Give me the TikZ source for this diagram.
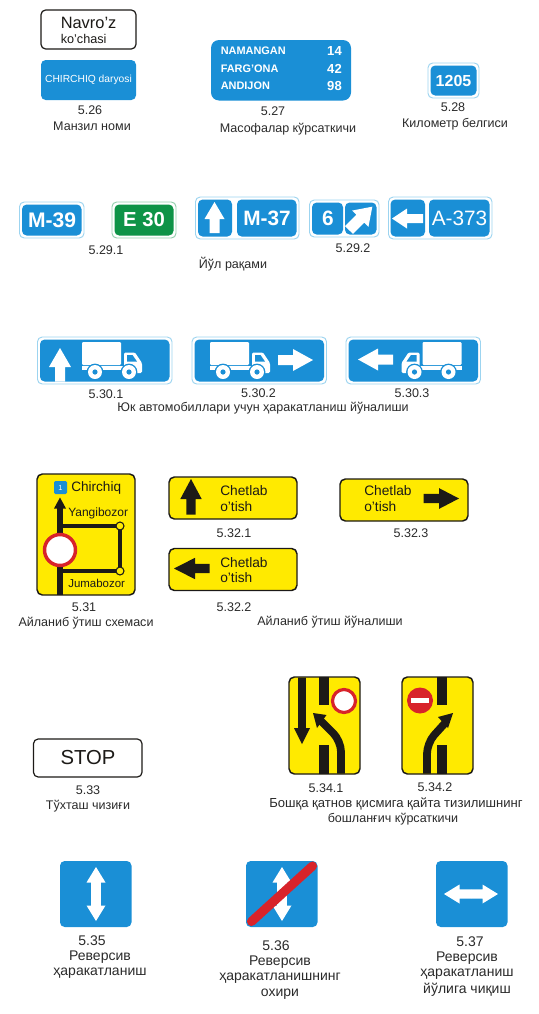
\documentclass[tikz,border=0pt]{standalone}
\usepackage{fontspec}
\setmainfont{Liberation Sans}
\definecolor{signblue}{HTML}{1A8FD6}
\definecolor{edgeblue}{HTML}{9CD4F0}
\definecolor{signgreen}{HTML}{0E9347}
\definecolor{signyellow}{HTML}{FFEA00}
\definecolor{signred}{HTML}{D8232A}
\definecolor{inkblack}{HTML}{1C1A17}
\definecolor{captext}{HTML}{2A2A2A}
\newcommand{\fs}[1]{\fontsize{#1}{#1}\selectfont}
% tail position, angle, length, head length, half head, half shaft
\newcommand{\signarrow}[7][white]{%
    \fill[#1,shift={#2},rotate=#3] (0,-#7) -- ({#4-#5},-#7) -- ({#4-#5},-#6) -- (#4,0)
        -- ({#4-#5},#6) -- ({#4-#5},#7) -- (0,#7) -- cycle;}
\tikzset{
    caplabel/.style={font=\fs{9.4}, text=captext, inner sep=0pt},
    biglabel/.style={font=\fs{10.5}, text=captext, inner sep=0pt},
    bluesign/.style={fill=signblue, rounded corners=3.5pt},
    edgesign/.style={draw=edgeblue, fill=white, line width=0.7pt, rounded corners=3.5pt},
    yellowsign/.style={draw=inkblack, fill=signyellow, line width=1.1pt, rounded corners=4pt},
    whitesign/.style={draw=inkblack, fill=white, line width=0.9pt, rounded corners=3.5pt},
    signtext/.style={text=white, inner sep=0pt},
    blacktext/.style={text=inkblack, inner sep=0pt},
    truck/.pic={
        \fill[white, rounded corners=0.8pt] (0,0) rectangle (39,23);
        \fill[white] (0,24) rectangle (42,28);
        \fill[white, rounded corners=1pt] (42,10.5) -- (53,10.5) -- (60,21) -- (60,31) -- (42,31) -- cycle;
        \fill[signblue] (45,13) -- (50.5,13) -- (55,19.5) -- (45,19.5) -- cycle;
        \foreach \w in {13, 47} {
            \fill[signblue] (\w,30) circle (8.4);
            \fill[white] (\w,30) circle (7);
            \fill[signblue] (\w,30) circle (2.6);
        }
    }
}
\begin{document}
\begin{tikzpicture}[x=0.75pt, y=-0.75pt]
    \useasboundingbox (0,0) rectangle (539,1014);
    % 5.26
    \draw[whitesign] (41,10) rectangle (136,49);
    \node[blacktext, font=\fs{12.3}, anchor=west] (navroz) at (60.5,22.5) {Navro’z};
    \node[blacktext, font=\fs{9.5}, anchor=west] (kochasi) at (60.5,39) {ko’chasi};
    \fill[bluesign] (41,60) rectangle (136,100);
    \node[signtext, font=\fs{7.7}] (chirchiq) at (88.5,80) {CHIRCHIQ daryosi};
    % 5.27
    \fill[bluesign, rounded corners=6pt] (211,40) rectangle (351,100.5);
    \foreach \name/\y/\city/\km in {nam/51/NAMANGAN/14, far/68.5/FARG’ONA/42, and/85.5/ANDIJON/98} {
        \node[signtext, font=\fs{8.2}\bfseries, anchor=west] (\name city) at (220.5,\y) {\city};
        \node[signtext, font=\fs{9.8}\bfseries] (\name km) at (334.5,\y) {\km};
    }
    % 5.28
    \draw[edgesign] (428,63) rectangle (479,98);
    \fill[bluesign] (430.5,65.5) rectangle (476.5,95.5);
    \node[signtext, font=\fs{12}\bfseries] (km1205) at (453.5,81) {1205};
    % 5.29
    \draw[edgesign] (19.5,202) rectangle (84,238);
    \fill[bluesign] (22,204.5) rectangle (81.5,235.5);
    \node[signtext, font=\fs{15.8}\bfseries] (m39) at (52,220) {M-39};
    \draw[edgesign, draw=signgreen!45] (112,202) rectangle (176,238);
    \fill[bluesign, fill=signgreen] (114.5,204.5) rectangle (173.5,235.5);
    \node[signtext, font=\fs{15.2}\bfseries] (e30) at (144,220) {E 30};
    \draw[edgesign] (195.5,197) rectangle (299,239);
    \fill[bluesign] (198,199.5) rectangle (232,236.5);
    \fill[bluesign] (237,199.5) rectangle (296.5,236.5);
    \signarrow{(214.5,233)}{90}{31}{17}{10}{5}
    \node[signtext, font=\fs{15.6}\bfseries] (m37) at (267,218.5) {M-37};
    \draw[edgesign] (309.5,200) rectangle (379,237);
    \fill[bluesign] (312,202.5) rectangle (343,234.5);
    \fill[bluesign] (345,202.5) rectangle (376.5,234.5);
    \node[signtext, font=\fs{15.6}\bfseries] (six) at (328,218.5) {6};
    \signarrow{(349,230)}{45}{33}{17}{11.5}{5.5}
    \draw[edgesign] (388.5,197) rectangle (492,239);
    \fill[bluesign] (390.5,199.5) rectangle (425,236.5);
    \fill[bluesign] (429,199.5) rectangle (489.5,236.5);
    \signarrow{(423,218.5)}{180}{31}{15}{10}{4.5}
    \node[signtext, font=\fs{15.6}] (a373) at (459.5,218.5) {A-373};
    % 5.30
    \foreach \x in {37.5, 192, 346} {
        \draw[edgesign] (\x,337) rectangle (\x+134.5,384);
        \fill[bluesign] (\x+2.5,339.5) rectangle (\x+132,381.5);
    }
    \signarrow{(60,381.5)}{90}{33.5}{19}{11}{5}
    \pic at (82,342) {truck};
    \pic at (210,342) {truck};
    \signarrow{(278,360)}{0}{35}{20}{11}{5}
    \pic[xscale=-1] at (461.5,342) {truck};
    \signarrow{(393,359.5)}{180}{35}{20}{11}{5}
    % 5.31
    \draw[yellowsign] (37,474) rectangle (135,595);
    \draw[inkblack, line width=2.6pt] (60,526) -- (120,526) -- (120,571) -- (60,571);
    \draw[inkblack, line width=3.8pt] (60,594.5) -- (60,505);
    \fill[inkblack] (60,497.5) -- (66,508.5) -- (54,508.5) -- cycle;
    \foreach \y in {526, 571} {
        \filldraw[fill=signyellow, draw=inkblack, line width=0.8pt] (120,\y) circle (4);
    }
    \filldraw[fill=white, draw=signred, line width=2.6pt] (60,550) circle (15.5);
    \fill[fill=signblue, rounded corners=1pt] (54,481) rectangle (67,494);
    \node[signtext, font=\fs{5.5}] (exit) at (60.5,487.5) {1};
    \node[blacktext, font=\fs{10.2}, anchor=west] (chirchiqcity) at (71,488) {Chirchiq};
    \node[blacktext, font=\fs{9}, anchor=west] (yangibozor) at (68,513) {Yangibozor};
    \node[blacktext, font=\fs{8.6}, anchor=west] (jumabozor) at (68,583) {Jumabozor};
    % 5.32
    \foreach \name/\x/\y in {one/169/477, two/169/548.5, three/340/479} {
        \draw[yellowsign] (\x,\y) rectangle (\x+128,\y+42);
    }
    \foreach \name/\x/\y in {one/220/491, two/220/562.5, three/364/491} {
        \node[blacktext, font=\fs{10.3}, anchor=west] (\name a) at (\x,\y) {Chetlab};
        \node[blacktext, font=\fs{10.3}, anchor=west] (\name b) at (\x,\y+15.5) {o’tish};
    }
    \signarrow[inkblack]{(191,514.5)}{90}{35.5}{20}{10.7}{4.7}
    \signarrow[inkblack]{(209.5,568.5)}{180}{35.5}{21}{10.7}{4.7}
    \signarrow[inkblack]{(423.5,498.5)}{0}{35.5}{20}{10.4}{4.6}
    % 5.33
    \draw[whitesign] (33.5,739) rectangle (142,777);
    \node[blacktext, font=\fs{15.2}] (stop) at (88,757.5) {STOP};
    % 5.34
    \draw[yellowsign] (289,677) rectangle (360,774);
    \draw[yellowsign] (402,677) rectangle (473,774);
    \foreach \x in {324, 442} {
        \fill[inkblack] (\x-4.7,677) rectangle (\x+4.7,705);
        \fill[inkblack] (\x-4.7,745) rectangle (\x+4.7,774);
    }
    \signarrow[inkblack]{(302,677.5)}{-90}{66.5}{16}{8}{3.8}
    \filldraw[fill=white, draw=signred, line width=2.4pt] (344,701) circle (11.5);
    \draw[inkblack, line width=5.8pt, rounded corners=8pt] (341,773.5) -- (341,741) -- (321,721);
    \fill[inkblack] (313,713) -- (326.5,715) -- (317,728) -- cycle;
    \fill[signred] (420,700.5) circle (13);
    \fill[white] (411,698) rectangle (429,703);
    \draw[inkblack, line width=5.8pt, rounded corners=8pt] (427,773.5) -- (427,743) -- (446,722);
    \fill[inkblack] (453,713) -- (438,717) -- (448,728) -- cycle;
    % 5.35 - 5.37
    \foreach \x in {60, 246, 436} {
        \fill[bluesign] (\x,861) rectangle (\x+71.5,927);
    }
    \signarrow{(96,894)}{90}{27}{15.5}{9.5}{4.8}
    \signarrow{(96,894)}{-90}{27}{15.5}{9.5}{4.8}
    \signarrow{(282,894)}{90}{27}{15.5}{9.5}{4.8}
    \signarrow{(282,894)}{-90}{27}{15.5}{9.5}{4.8}
    \draw[signred, line width=6.8pt, line cap=round] (251.5,921.5) -- (312.5,866);
    \signarrow{(471,894)}{0}{27}{15.5}{9.5}{4.6}
    \signarrow{(471,894)}{180}{27}{15.5}{9.5}{4.6}
    % captions
    \foreach \name/\x/\y/\txt in {
        c526/90/110/5.26, t526/92/126/Манзил номи,
        c527/273/111/5.27, t527/288/129/Масофалар кўрсаткичи,
        c528/453/107/5.28, t528/455/124/Километр белгиси,
        c5291/106/250.5/5.29.1, t529/233/264/Йўл рақами, c5292/353/248/5.29.2,
        c5301/106/394/5.30.1, c5302/258.5/393/5.30.2, c5303/412/393/5.30.3,
        t530/263/408/Юк автомобиллари учун ҳаракатланиш йўналиши,
        c531/84/607/5.31, t531/86/623/Айланиб ўтиш схемаси,
        c5321/234/533/5.32.1, c5323/411/533/5.32.3, c5322/234/607/5.32.2,
        t532/330/622.5/Айланиб ўтиш йўналиши,
        c533/88/790/5.33, t533/88/806/Тўхташ чизиғи,
        c5341/326/788/5.34.1, c5342/435/787/5.34.2, t5342/393/819/бошланғич кўрсаткичи} {
        \node[caplabel] (\name) at (\x,\y) {\txt};
    }
    \node[caplabel, font=\fs{9.8}] (t5341) at (396,804) {Бошқа қатнов қисмига қайта тизилишнинг};
    \foreach \name/\x/\y/\txt in {
        c535/92/941/5.35, t535a/100/957/Реверсив, t535b/100/973/ҳаракатланиш,
        c536/276/946/5.36, t536a/280/962/Реверсив, t536b/280/978/ҳаракатланишнинг, t536c/280/994/охири,
        c537/470/942/5.37, t537a/467/958/Реверсив, t537b/467/974/ҳаракатланиш, t537c/467/990/йўлига чиқиш} {
        \node[biglabel] (\name) at (\x,\y) {\txt};
    }
\end{tikzpicture}
\end{document}
